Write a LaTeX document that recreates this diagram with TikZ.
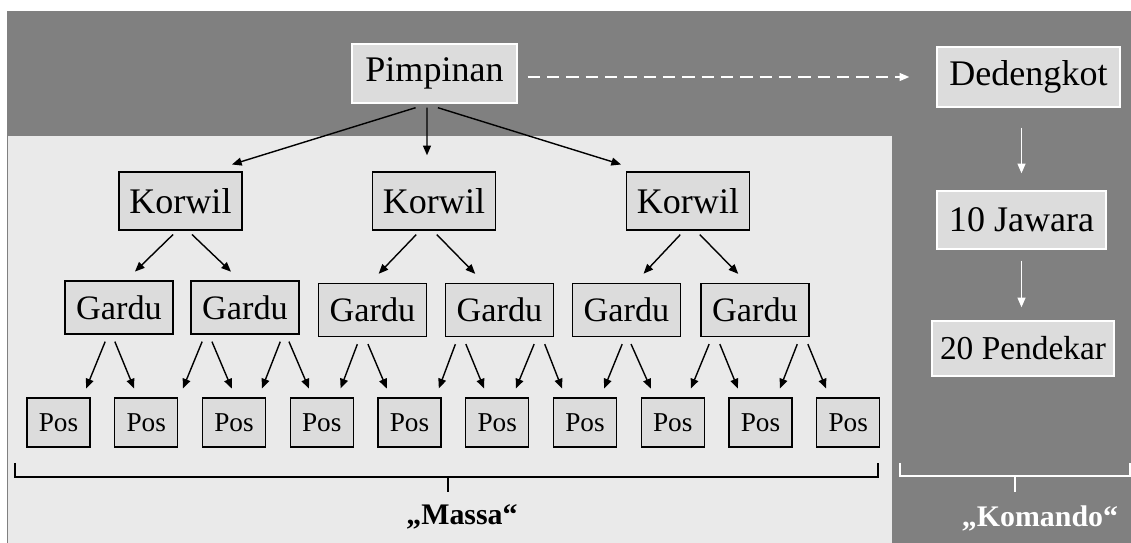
\documentclass[tikz,border=0pt]{standalone}
\usepackage{fontspec}
\setmainfont{Liberation Serif}
\usetikzlibrary{arrows.meta, positioning, backgrounds}
\definecolor{bgdark}{HTML}{808080}
\definecolor{bglight}{HTML}{EAEAEA}
\definecolor{boxgray}{HTML}{DCDCDC}

\begin{document}
\begin{tikzpicture}[
    font=\fontsize{20.5}{24}\selectfont,
    box/.style={draw=#1, fill=boxgray, line width=0.8pt, inner sep=0pt, align=center},
    korwil/.style={box=black, minimum width=2.46cm, minimum height=1.16cm},
    gardu/.style={box=black, minimum width=2.16cm, minimum height=1.06cm, font=\fontsize{19.5}{23}\selectfont},
    posbox/.style={box=black, minimum width=1.26cm, minimum height=0.98cm, font=\fontsize{15.5}{18}\selectfont},
    arr/.style={-{Triangle[length=5.5pt,width=4.5pt]}, line width=0.8pt},
    warr/.style={arr, white},
    dasharr/.style={warr, dash pattern=on 7pt off 4pt},
    brk/.style={line width=0.8pt},
    lbl/.style={font=\bfseries\fontsize{17}{20}\selectfont},
]
\useasboundingbox (0,0) rectangle (22.62,-10.86);

% top level and commando line
\node[box=white, minimum width=3.3cm, minimum height=1.18cm] (pim) at (8.69,-1.47) {Pimpinan};
\node[box=white, minimum width=3.66cm, minimum height=1.2cm] (ded) at (20.57,-1.54) {Dedengkot};
\node[box=white, minimum width=3.38cm, minimum height=1.16cm] (jaw) at (20.43,-4.4) {10 Jawara};
\node[box=white, minimum width=3.64cm, minimum height=1.1cm, font=\fontsize{19}{22}\selectfont] (pen) at (20.46,-6.97) {20 Pendekar};

% mass tree
\foreach \i/\x in {1/3.61, 2/8.68, 3/13.76}
    \node[korwil] (k\i) at (\x,-4.02) {Korwil};
\foreach \i/\x/\y in {1/2.38/-6.15, 2/4.9/-6.15, 3/7.45/-6.2, 4/9.99/-6.2, 5/12.53/-6.2, 6/15.1/-6.2}
    \node[gardu] (g\i) at (\x,\y) {Gardu};
\foreach \i in {1,...,10}
    \node[posbox] (p\i) at ({1.17+1.755*(\i-1)},-8.45) {Pos};

\draw[dasharr, shorten <=0.2cm, shorten >=0.54cm] (ded.west -| pim.east) -- (ded.west);
\draw[warr, shorten <=0.4cm, shorten >=0.34cm] (ded.south -| jaw.north) -- (jaw.north);
\draw[warr, shorten <=0.22cm, shorten >=0.26cm] (jaw.south) -- (jaw.south |- pen.north);

\draw[arr, shorten <=0.27cm, shorten >=0.46cm] ([xshift=-0.12cm]pim.south) -- ([xshift=0.59cm]k1.north);
\draw[arr, shorten <=0.08cm, shorten >=0.32cm] ([xshift=-0.15cm]pim.south) -- ([xshift=-0.14cm]k2.north);
\draw[arr, shorten <=0.27cm, shorten >=0.46cm] ([xshift=-0.19cm]pim.south) -- ([xshift=-0.9cm]k3.north);

\foreach \a/\sa/\b/\sb in {k1/-0.07/g1/0.14, k1/0.15/g2/-0.1, k2/-0.28/g3/-0.05,
        k2/-0.02/g4/-0.31, k3/-0.08/g5/0.17, k3/0.16/g6/-0.16}
    \draw[arr, shorten <=0.11cm, shorten >=0.25cm] ([xshift=\sa cm]\a.south) -- ([xshift=\sb cm]\b.north);

\foreach \a/\sa/\b/\sb in {g1/-0.22/p1/0.48, g1/-0.14/p2/-0.17, g2/-0.8/p2/0.66, g2/-0.72/p3/0.03,
        g2/0.76/p3/0.49, g2/0.82/p4/-0.18, g3/-0.25/p4/0.31, g3/-0.15/p5/-0.38,
        g4/-0.83/p5/0.52, g4/-0.73/p6/-0.19, g4/0.75/p6/0.3, g4/0.85/p7/-0.39,
        g5/-0.03/p7/0.31, g5/0.03/p8/-0.36, g6/-0.86/p8/0.29, g6/-0.76/p9/-0.38,
        g6/0.9/p9/0.32, g6/1.0/p10/-0.37}
    \draw[arr, shorten <=0.15cm, shorten >=0.19cm] ([xshift=\sa cm]\a.south) -- ([xshift=\sb cm]\b.north);

% brackets
\draw[brk] (0.3,-9.26) |- (17.56,-9.54) -- (17.56,-9.26);
\draw[brk] (8.96,-9.54) -- (8.96,-9.84);
\node[lbl] (massa) at (9.24,-10.34) {„Massa“};
\draw[brk, white] (18,-9.26) |- (22.6,-9.52) -- (22.6,-9.26);
\draw[brk, white] (20.3,-9.52) -- (20.3,-9.84);
\node[lbl, white] (komando) at (20.8,-10.36) {„Komando“};

\begin{scope}[on background layer]
    \fill[bgdark] (0.14,-0.22) rectangle (22.62,-10.86);
    \fill[bglight] (0.16,-2.72) rectangle (17.84,-10.86);
\end{scope}
\end{tikzpicture}
\end{document}
